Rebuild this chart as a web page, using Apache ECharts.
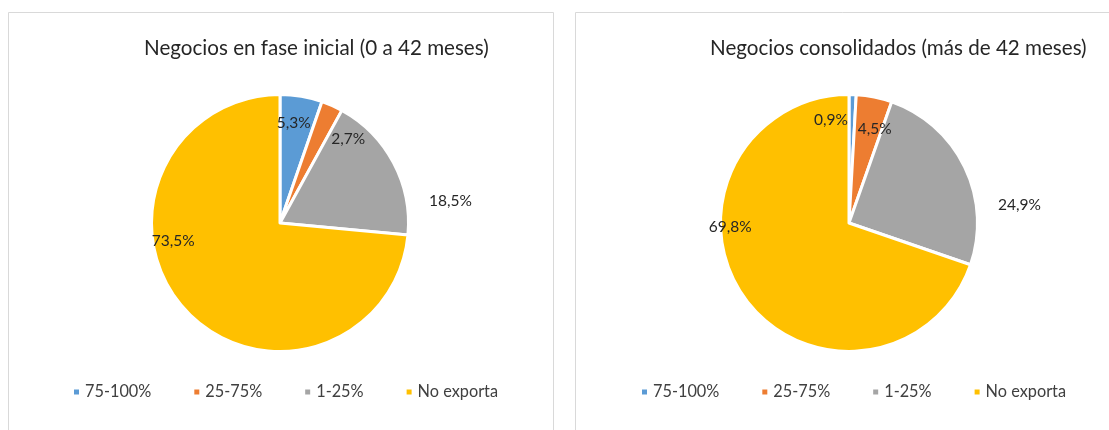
<!DOCTYPE html>
<html>
<head>
<meta charset="utf-8">
<script src="https://cdn.jsdelivr.net/npm/echarts@6/dist/echarts.min.js"></script>
<style>
  html, body { margin: 0; padding: 0; background: #ffffff; }
  #chart { width: 1109px; height: 430px; }
</style>
</head>
<body>
<div id="chart"></div>
<script>
// Export share categories and the two business groups
const categories = ['75-100%', '25-75%', '1-25%', 'No exporta'];
const initialValues = [5.3, 2.7, 18.5, 73.5];
const consolidatedValues = [0.9, 4.5, 24.9, 69.8];
const titles = ['Negocios en fase inicial (0 a 42 meses)', 'Negocios consolidados (más de 42 meses)'];

const sliceColors = ['#5B9BD5', '#ED7D31', '#A5A5A5', '#FFC000'];
const FONT = 'Lato, "Noto Sans", sans-serif';

// Label nudges (dx, dy) from the default inside position, per slice
const labelNudges = [
  [[2.5, -34], [41, -23], [111, 9], [-57, -27]],
  [[-20, -36], [12.5, -28], [110, 11], [-64, -35]]
];

function fmt(v) {
  return v.toFixed(1).replace('.', ',') + '%';
}

function pieSeries(idx, values, center) {
  return {
    type: 'pie',
    center: center,
    radius: 128.5,
    startAngle: 90,
    clockwise: true,
    avoidLabelOverlap: false,
    animation: false,
    itemStyle: { borderColor: '#ffffff', borderWidth: 3 },
    emphasis: { disabled: true },
    label: {
      show: true,
      position: 'inside',
      color: '#262626',
      fontFamily: FONT,
      fontSize: 15.5,
      formatter: p => fmt(p.value)
    },
    labelLine: { show: false },
    labelLayout: p => ({ dx: labelNudges[idx][p.dataIndex][0], dy: labelNudges[idx][p.dataIndex][1] }),
    data: categories.map((c, i) => ({ name: c, value: values[i], itemStyle: { color: sliceColors[i] } }))
  };
}

function legendAt(left) {
  return {
    data: categories,
    left: left,
    top: 384,
    padding: 0,
    icon: 'rect',
    itemWidth: 7,
    itemHeight: 7,
    itemGap: 41,
    selectedMode: false,
    textStyle: { color: '#404040', fontFamily: FONT, fontSize: 16.3 }
  };
}

const chart = echarts.init(document.getElementById('chart'), null, { renderer: 'canvas' });
chart.setOption({
  backgroundColor: '#ffffff',
  animation: false,
  graphic: [
    { type: 'rect', shape: { x: 8.5, y: 12.5, width: 545, height: 500 }, style: { fill: 'none', stroke: '#d9d9d9', lineWidth: 1 }, silent: true },
    { type: 'rect', shape: { x: 575.5, y: 12.5, width: 600, height: 500 }, style: { fill: 'none', stroke: '#d9d9d9', lineWidth: 1 }, silent: true }
  ],
  title: [
    { text: titles[0], left: 139, top: 33, textStyle: { color: '#262626', fontFamily: FONT, fontSize: 20.6, fontWeight: 'normal' } },
    { text: titles[1], left: 705, top: 33, textStyle: { color: '#262626', fontFamily: FONT, fontSize: 20.6, fontWeight: 'normal' } }
  ],
  legend: [legendAt(72), legendAt(640)],
  series: [
    pieSeries(0, initialValues, [280, 223]),
    pieSeries(1, consolidatedValues, [849, 223])
  ]
});
</script>
</body>
</html>
